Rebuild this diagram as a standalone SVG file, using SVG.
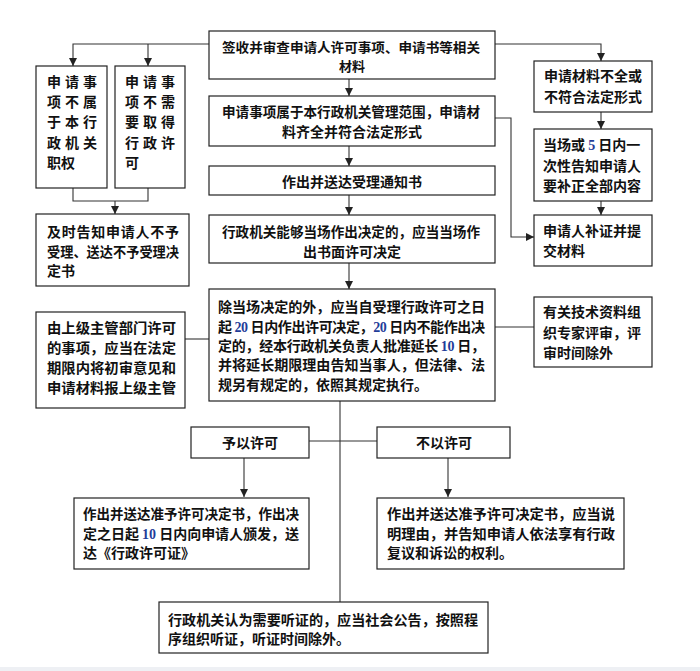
<svg xmlns="http://www.w3.org/2000/svg" width="700" height="671" viewBox="0 0 700 671">
<style>
.box{fill:#fff;stroke:#222;stroke-width:1.2}
.ln{fill:none;stroke:#333;stroke-width:1.1}
.t{font-family:"Noto Sans CJK SC","Noto Sans",sans-serif;font-size:14px;font-weight:bold;fill:#111}
.s{font-size:13px}
.c{text-anchor:middle}
.sp{letter-spacing:4px}
.d{font-family:"Liberation Serif",serif;font-weight:bold;fill:#1f3d99}
</style>
<defs>
<marker id="ah" markerUnits="userSpaceOnUse" markerWidth="8" markerHeight="8" refX="8" refY="4" orient="auto">
<path d="M0,0 L8,4 L0,8 z" fill="#222"/>
</marker>
</defs>
<rect x="0" y="0" width="700" height="671" fill="#fff"/>
<rect x="0" y="667" width="700" height="4" fill="#eef0f4"/>
<g id="connectors">
<path class="ln" d="M209,44 H73 V66" marker-end="url(#ah)"/>
<path class="ln" d="M148,44 V66" marker-end="url(#ah)"/>
<path class="ln" d="M495,44 H601 V61" marker-end="url(#ah)"/>
<path class="ln" d="M349,79 V96" marker-end="url(#ah)"/>
<path class="ln" d="M349,146 V166" marker-end="url(#ah)"/>
<path class="ln" d="M349,195 V215" marker-end="url(#ah)"/>
<path class="ln" d="M349,263 V289" marker-end="url(#ah)"/>
<path class="ln" d="M495,118 H511 V237 H534" marker-end="url(#ah)"/>
<path class="ln" d="M601,112 V129" marker-end="url(#ah)"/>
<path class="ln" d="M601,201 V215" marker-end="url(#ah)"/>
<path class="ln" d="M73,188 V201 H148 V188"/>
<path class="ln" d="M115,201 V214" marker-end="url(#ah)"/>
<path class="ln" d="M185,339 H209"/>
<path class="ln" d="M495,327 H534"/>
<path class="ln" d="M340,401 V602"/>
<path class="ln" d="M309,441 H377"/>
<path class="ln" d="M244,458 V497" marker-end="url(#ah)"/>
<path class="ln" d="M448,458 V497" marker-end="url(#ah)"/>
</g>
<g id="n-top">
<rect class="box" x="209" y="31" width="286" height="48"/>
<text class="t s" x="222" y="52" textLength="258" lengthAdjust="spacingAndGlyphs">签收并审查申请人许可事项、申请书等相关</text>
<text class="t s c" x="352" y="71">材料</text>
</g>
<g id="n-left1">
<rect class="box" x="36" y="66" width="71" height="122"/>
<text class="t sp" x="47" y="87">申请事</text>
<text class="t sp" x="47" y="107">项不属</text>
<text class="t sp" x="47" y="127">于本行</text>
<text class="t sp" x="47" y="148">政机关</text>
<text class="t" x="47" y="168">职权</text>
</g>
<g id="n-left2">
<rect class="box" x="115" y="66" width="70" height="122"/>
<text class="t sp" x="125" y="87">申请事</text>
<text class="t sp" x="125" y="107">项不需</text>
<text class="t sp" x="125" y="127">要取得</text>
<text class="t sp" x="125" y="148">行政许</text>
<text class="t" x="125" y="168">可</text>
</g>
<g id="n-notify">
<rect class="box" x="36" y="214" width="153" height="72"/>
<text class="t" x="47" y="237" textLength="132" lengthAdjust="spacing">及时告知申请人不予</text>
<text class="t" x="47" y="257" textLength="132" lengthAdjust="spacingAndGlyphs">受理、送达不予受理决</text>
<text class="t" x="47" y="276">定书</text>
</g>
<g id="n-scope">
<rect class="box" x="209" y="96" width="286" height="50"/>
<text class="t" x="222" y="117" textLength="258" lengthAdjust="spacingAndGlyphs">申请事项属于本行政机关管理范围，申请材</text>
<text class="t c" x="352" y="137">料齐全并符合法定形式</text>
</g>
<g id="n-accept">
<rect class="box" x="209" y="166" width="286" height="29"/>
<text class="t c" x="352" y="187">作出并送达受理通知书</text>
</g>
<g id="n-onsite">
<rect class="box" x="209" y="215" width="286" height="48"/>
<text class="t" x="222" y="237" textLength="258" lengthAdjust="spacingAndGlyphs">行政机关能够当场作出决定的，应当当场作</text>
<text class="t c" x="352" y="257">出书面许可决定</text>
</g>
<g id="n-main">
<rect class="box" x="209" y="289" width="286" height="112"/>
<text class="t" x="218" y="312" textLength="267" lengthAdjust="spacingAndGlyphs">除当场决定的外，应当自受理行政许可之日</text>
<text class="t" x="218" y="332" textLength="267" lengthAdjust="spacing">起 <tspan class="d">20</tspan> 日内作出许可决定，<tspan class="d">20</tspan> 日内不能作出决</text>
<text class="t" x="218" y="351" textLength="267" lengthAdjust="spacing">定的，经本行政机关负责人批准延长 <tspan class="d">10</tspan> 日，</text>
<text class="t" x="218" y="370" textLength="267" lengthAdjust="spacingAndGlyphs">并将延长期限理由告知当事人，但法律、法</text>
<text class="t" x="218" y="390">规另有规定的，依照其规定执行。</text>
</g>
<g id="n-superior">
<rect class="box" x="36" y="312" width="149" height="96"/>
<text class="t" x="47" y="333" textLength="129" lengthAdjust="spacingAndGlyphs">由上级主管部门许可</text>
<text class="t" x="47" y="353" textLength="129" lengthAdjust="spacingAndGlyphs">的事项，应当在法定</text>
<text class="t" x="47" y="373" textLength="129" lengthAdjust="spacingAndGlyphs">期限内将初审意见和</text>
<text class="t" x="47" y="393" textLength="129" lengthAdjust="spacingAndGlyphs">申请材料报上级主管</text>
</g>
<g id="n-incomplete">
<rect class="box" x="534" y="61" width="118" height="51"/>
<text class="t" x="544" y="81">申请材料不全或</text>
<text class="t" x="544" y="102">不符合法定形式</text>
</g>
<g id="n-inform">
<rect class="box" x="534" y="129" width="118" height="72"/>
<text class="t" x="543" y="150">当场或 <tspan class="d">5</tspan> 日内一</text>
<text class="t" x="543" y="171">次性告知申请人</text>
<text class="t" x="543" y="191">要补正全部内容</text>
</g>
<g id="n-supplement">
<rect class="box" x="534" y="215" width="118" height="51"/>
<text class="t" x="543" y="236">申请人补证并提</text>
<text class="t" x="543" y="256">交材料</text>
</g>
<g id="n-expert">
<rect class="box" x="534" y="297" width="118" height="70"/>
<text class="t" x="543" y="317">有关技术资料组</text>
<text class="t" x="543" y="338">织专家评审，评</text>
<text class="t" x="543" y="358">审时间除外</text>
</g>
<g id="n-grant">
<rect class="box" x="191" y="427" width="118" height="31"/>
<text class="t c" x="250" y="448">予以许可</text>
</g>
<g id="n-deny">
<rect class="box" x="377" y="427" width="133" height="31"/>
<text class="t c" x="444" y="448">不以许可</text>
</g>
<g id="n-grantdoc">
<rect class="box" x="74" y="498" width="235" height="71"/>
<text class="t" x="83" y="519" textLength="216" lengthAdjust="spacingAndGlyphs">作出并送达准予许可决定书，作出决</text>
<text class="t" x="83" y="539" textLength="216" lengthAdjust="spacing">定之日起 <tspan class="d">10</tspan> 日内向申请人颁发，送</text>
<text class="t" x="83" y="558">达《行政许可证》</text>
</g>
<g id="n-denydoc">
<rect class="box" x="377" y="498" width="247" height="71"/>
<text class="t" x="387" y="519" textLength="228" lengthAdjust="spacingAndGlyphs">作出并送达准予许可决定书，应当说</text>
<text class="t" x="387" y="539" textLength="228" lengthAdjust="spacingAndGlyphs">明理由，并告知申请人依法享有行政</text>
<text class="t" x="387" y="558">复议和诉讼的权利。</text>
</g>
<g id="n-hearing">
<rect class="box" x="159" y="602" width="329" height="51"/>
<text class="t" x="168" y="625" textLength="310" lengthAdjust="spacingAndGlyphs">行政机关认为需要听证的，应当社会公告，按照程</text>
<text class="t" x="168" y="644">序组织听证，听证时间除外。</text>
</g>
</svg>
